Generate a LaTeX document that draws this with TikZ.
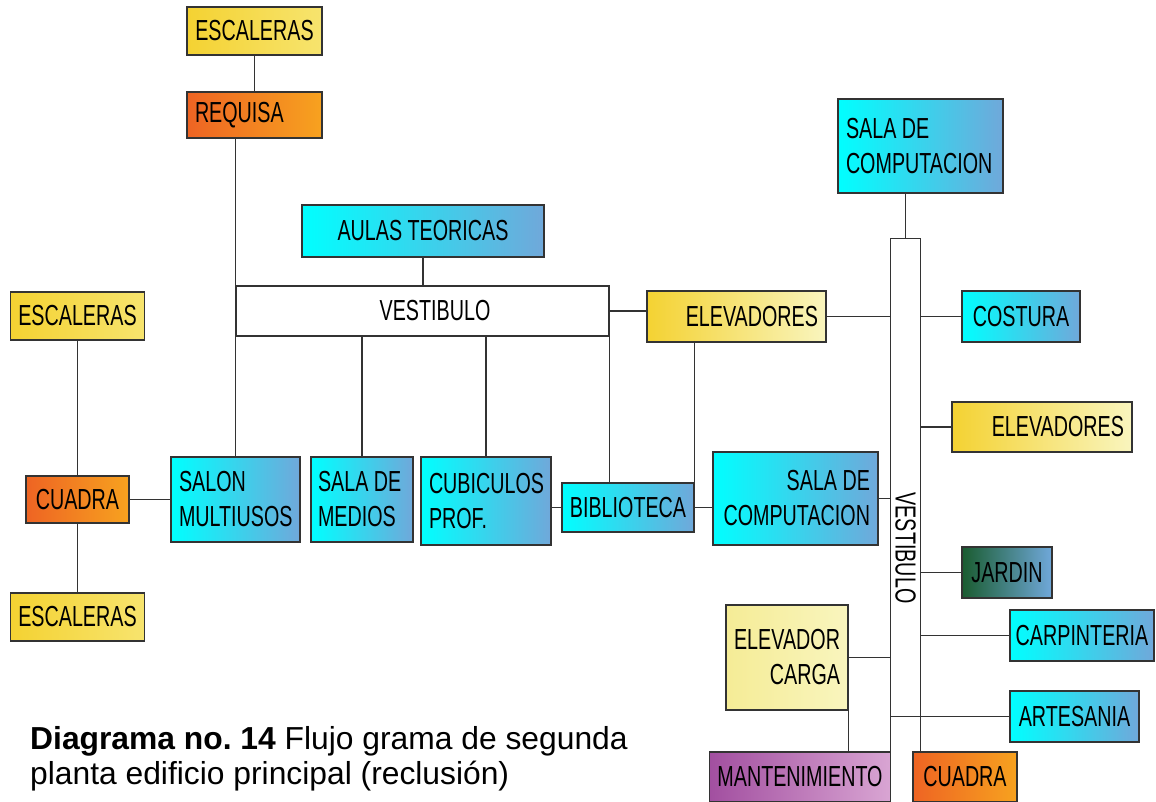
\documentclass[tikz,border=0pt]{standalone}
\usepackage{fontspec}
\setmainfont{Liberation Sans}
\newfontfamily\estrecha[FakeStretch=0.68]{Liberation Sans}
\newcommand\cajafont{\estrecha\fontsize{29}{35}\selectfont}
\usetikzlibrary{calc}
\definecolor{gris}{HTML}{333333}
\definecolor{amaA}{HTML}{F4D232}
\definecolor{amaB}{HTML}{F7E46E}
\definecolor{elvB}{HTML}{F9F5BE}
\definecolor{crgA}{HTML}{F5EC96}
\definecolor{naraA}{HTML}{EE6423}
\definecolor{naraB}{HTML}{F7A21F}
\definecolor{cianA}{HTML}{00FFFF}
\definecolor{cianB}{HTML}{70A8DA}
\definecolor{verdeA}{HTML}{1A5C30}
\definecolor{moraA}{HTML}{A24FA0}
\definecolor{moraB}{HTML}{D9A5D3}
\frenchspacing

\begin{document}
\begin{tikzpicture}[x=1pt, y=-1pt, every node/.style={font=\cajafont}]
\tikzset{caja/.style={draw=gris, line width=1.3pt, inner xsep=8pt, inner ysep=0pt},
  amarillo/.style={caja, left color=amaA, right color=amaB},
  elev/.style={caja, left color=amaA, right color=elvB},
  carga/.style={caja, left color=crgA, right color=elvB},
  naranja/.style={caja, left color=naraA, right color=naraB},
  cian/.style={caja, left color=cianA, right color=cianB},
  verde/.style={caja, left color=verdeA, right color=cianB},
  morado/.style={caja, left color=moraA, right color=moraB},
  con/.style={draw=gris, line width=1.3pt}}
\useasboundingbox (0,0) rectangle (1156,801);

% ala izquierda
\node[amarillo, minimum width=135, minimum height=48] (esc1) at (254.5,31) {ESCALERAS};
\node[naranja, minimum height=46, text width=119, align=flush left] (req) at (254.5,115) {REQUISA};
\node[amarillo, minimum width=133, minimum height=48] (esc2) at (77.5,316) {ESCALERAS};
\node[naranja, minimum width=103, minimum height=47] (cua1) at (77.5,499.5) {CUADRA};
\node[amarillo, minimum width=133, minimum height=48] (esc3) at (77.5,617) {ESCALERAS};
\node[cian, minimum height=85, text width=113, align=flush left] (salon) at (235.5,499.5) {SALON\\MULTIUSOS};
\node[cian, minimum height=85, inner xsep=7pt, text width=88, align=flush left] (medios) at (362,499.5) {SALA DE\\MEDIOS};
\node[cian, minimum height=88, text width=114, align=flush left] (cubi) at (486,501) {CUBICULOS\\PROF.};
\node[cian, minimum width=130, minimum height=49] (biblio) at (628,507.5) {BIBLIOTECA};
\node[cian, minimum height=93, text width=149, align=flush right] (comp1) at (795.5,498.5) {SALA DE\\COMPUTACION};
\node[cian, minimum width=242, minimum height=52] (aulas) at (423,231) {AULAS TEORICAS};
\node[elev, minimum height=51, text width=163, align=flush right] (elev1) at (736.5,316.5) {ELEVADORES};
\node[draw=gris, line width=1.3pt, minimum width=373, minimum height=50,
  label={[xshift=12.5pt]center:VESTIBULO}] (vest) at (422.5,311) {};

% vestibulo vertical
\node[minimum width=29, minimum height=513, inner sep=0pt] (vvest) at (905.5,495.5) {};
\node[rotate=-90] (vtxt) at (905.5,548) {VESTIBULO};
\node[cian, minimum height=94, text width=149, align=flush left] (comp2) at (920.5,146) {SALA DE\\COMPUTACION};
\node[cian, minimum width=118, minimum height=51] (cost) at (1021,316.5) {COSTURA};
\node[elev, minimum height=50, text width=164, align=flush right] (elev2) at (1042,427) {ELEVADORES};
\node[verde, minimum width=90, minimum height=51] (jardin) at (1007,572.5) {JARDIN};
\node[cian, minimum width=144, minimum height=51, inner xsep=2pt] (carp) at (1082,635.5) {CARPINTERIA};
\node[carga, minimum height=105, text width=106, align=flush right] (cargo) at (787,657.5) {ELEVADOR\\CARGA};
\node[cian, minimum width=129, minimum height=51] (art) at (1074.5,716.5) {ARTESANIA};
\node[morado, minimum width=180, minimum height=50] (mant) at (800,777) {MANTENIMIENTO};
\node[naranja, minimum width=104, minimum height=50] (cua2) at (965,777) {CUADRA};

\node[anchor=north west, inner sep=0pt, text width=650, align=flush left,
  font=\fontsize{31.8}{35}\selectfont] (pie) at (30,726)
  {\textbf{Diagrama no. 14} Flujo grama de segunda\\planta edificio principal (reclusión)};

% conexiones
\draw[con] (esc1) -- (req);
\draw[con] (req.south -| salon.north) -- (salon.north);
\draw[con] (aulas) -- (aulas |- vest.north);
\draw[con] (vest.north east) -- (vest.north east |- biblio.north);
\draw[con] (vest.south -| medios.north) -- (medios.north);
\draw[con] (vest.south -| cubi.north) -- (cubi.north);
\draw[con] (vest.east) -- (vest.east -| elev1.west);
\draw[con] (elev1.south -| biblio.north east) -- (biblio.north east);
\draw[con] (esc2) -- (cua1) -- (esc3);
\draw[con] (cua1) -- (salon);
\draw[con] (cubi.east |- biblio) -- (biblio.west);
\draw[con] (biblio.east) -- (biblio.east -| comp1.west);
\draw[con] (vvest.south west) |- (vvest.north east) -- (vvest.south east);
\draw[con] (vvest.north) -- (vvest.north |- comp2.south);
\draw[con] (elev1.east) -- (elev1.east -| vvest.west);
\draw[con] (comp1.east) -- (comp1.east -| vvest.west);
\draw[con] (cargo.east) -- (cargo.east -| vvest.west);
\draw[con] (cost.west -| vvest.east) -- (cost.west);
\draw[con] (elev2.west -| vvest.east) -- (elev2.west);
\draw[con] (jardin.west -| vvest.east) -- (jardin.west);
\draw[con] (carp.west -| vvest.east) -- (carp.west);
\draw[con] (art.west -| vvest.west) -- (art.west);
\draw[con] (cargo.south east) -- (cargo.south east |- mant.north);
\end{tikzpicture}
\end{document}
